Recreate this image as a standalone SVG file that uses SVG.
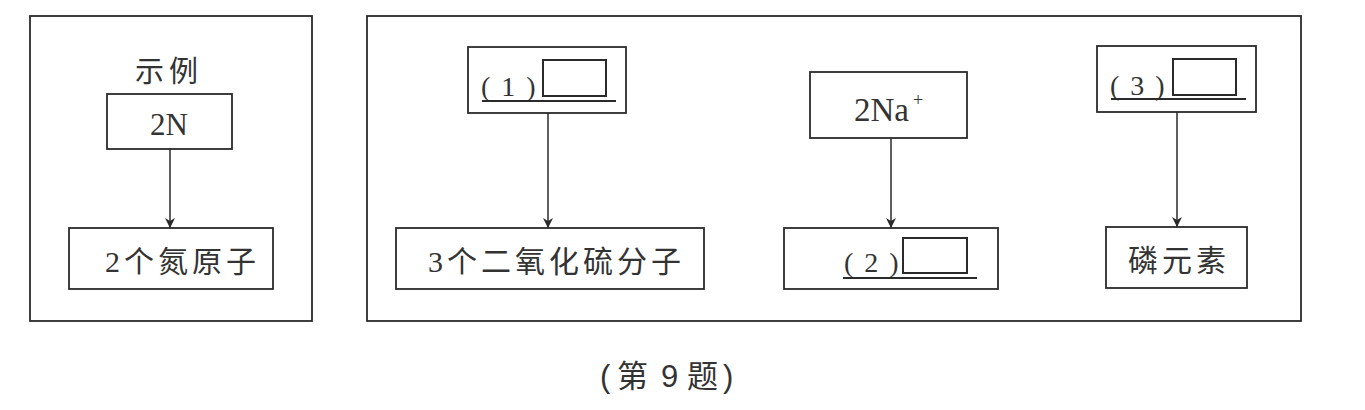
<svg xmlns="http://www.w3.org/2000/svg" width="1365" height="410" viewBox="0 0 1365 410">
<defs>
<style>
.frame{fill:none;stroke:#2a2a2a;stroke-width:1.8}
.box{fill:#fff;stroke:#2a2a2a;stroke-width:1.8}
.ul{stroke:#2a2a2a;stroke-width:2}
.edge{stroke:#2a2a2a;stroke-width:1.5;fill:none;marker-end:url(#ah)}
.t{font-family:"Liberation Serif","Noto Sans CJK SC",serif;fill:#333;font-size:30px}
.s{font-family:"Liberation Serif",serif;fill:#333;font-size:28px;letter-spacing:11px}
.cap{font-family:"Liberation Sans","Noto Sans CJK SC",sans-serif;fill:#333;font-size:31px}
</style>
<marker id="ah" viewBox="0 0 10 22" refX="10" refY="11" markerUnits="userSpaceOnUse" markerWidth="10" markerHeight="22" orient="auto">
<path d="M0,6 L10,11 L0,16 L3,11 z" fill="#2a2a2a"/>
</marker>
</defs>
<rect width="1365" height="410" fill="#fff"/>
<g id="frames">
<rect class="frame" x="30" y="16" width="282" height="305"/>
<rect class="frame" x="367" y="16" width="934" height="305"/>
</g>
<g id="connectors">
<line class="edge" x1="170" y1="149" x2="170" y2="228"/>
<line class="edge" x1="548" y1="113" x2="548" y2="228"/>
<line class="edge" x1="891" y1="138" x2="891" y2="228"/>
<line class="edge" x1="1177" y1="112" x2="1177" y2="227"/>
</g>
<g id="example-label">
<text class="t" x="135" y="82" style="font-size:29px;letter-spacing:5px">示例</text>
</g>
<g id="node-2N">
<rect class="box" x="107" y="94" width="125" height="55"/>
<text class="t" x="169" y="135" text-anchor="middle" style="font-size:31px">2N</text>
</g>
<g id="node-2N-atoms">
<rect class="box" x="69" y="228" width="204" height="61"/>
<text class="t" x="105" y="272" style="letter-spacing:4px">2个氮原子</text>
</g>
<g id="node-q1">
<rect class="box" x="468" y="47" width="158" height="66"/>
<text class="s" x="481" y="96">(1)</text>
<rect class="box" x="543" y="60" width="63" height="36" style="stroke-width:2"/>
<line class="ul" x1="482" y1="101" x2="616" y2="101"/>
</g>
<g id="node-so2">
<rect class="box" x="396" y="228" width="308" height="61"/>
<text class="t" x="428" y="272" style="letter-spacing:4px">3个二氧化硫分子</text>
</g>
<g id="node-2Na">
<rect class="box" x="810" y="72" width="157" height="66"/>
<text class="t" x="854" y="121" style="font-size:33px">2Na</text>
<text class="t" x="913" y="106" style="font-size:18px">+</text>
</g>
<g id="node-q2">
<rect class="box" x="784" y="228" width="214" height="61"/>
<text class="s" x="844" y="272">(2)</text>
<rect class="box" x="903" y="238" width="64" height="35" style="stroke-width:2"/>
<line class="ul" x1="843" y1="278" x2="977" y2="278"/>
</g>
<g id="node-q3">
<rect class="box" x="1097" y="46" width="159" height="66"/>
<text class="s" x="1110" y="95">(3)</text>
<rect class="box" x="1173" y="59" width="63" height="36" style="stroke-width:2"/>
<line class="ul" x1="1111" y1="99" x2="1246" y2="99"/>
</g>
<g id="node-P">
<rect class="box" x="1106" y="227" width="141" height="61"/>
<text class="t" x="1128" y="271" style="letter-spacing:4px">磷元素</text>
</g>
<g id="caption">
<text class="cap" y="387"><tspan x="600">(</tspan><tspan x="617">第</tspan><tspan x="661">9</tspan><tspan x="687">题</tspan><tspan x="723">)</tspan></text>
</g>
</svg>
